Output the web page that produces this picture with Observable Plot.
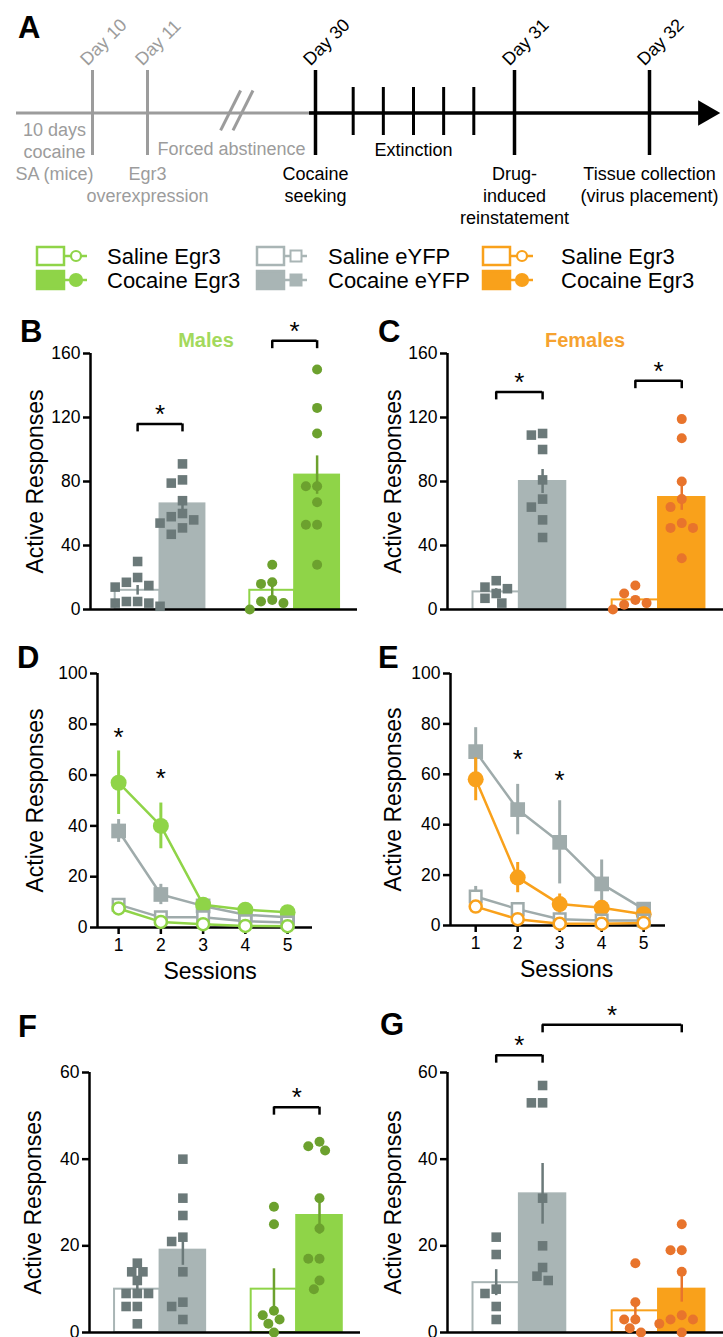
<!DOCTYPE html>
<html>
<head>
<meta charset="utf-8">
<script src="https://cdn.jsdelivr.net/npm/d3@7"></script>
<script src="https://cdn.jsdelivr.net/npm/@observablehq/plot@0.6"></script>
<style>
html, body { margin: 0; padding: 0; background: #fff; }
#page { position: relative; width: 723px; height: 1337px; overflow: hidden; background: #fff; font-family: "Liberation Sans", Arial, Helvetica, sans-serif; }
#page > svg { position: absolute; overflow: visible; }
</style>
</head>
<body>
<div id="page"></div>
<script>
// ================= DATA =================
// Panel A timeline
const timelineDays = [10, 11, 30, 31, 32];
const timelineDayLabels = ["Day 10", "Day 11", "Day 30", "Day 31", "Day 32"];
const timelineDayEarly = [true, true, false, false, false];
const extinctionSessions = [1, 2, 3, 4, 5];
const phaseLabels = ["10 days\ncocaine\nSA (mice)", "Egr3\noverexpression", "Forced abstinence", "Cocaine\nseeking", "Extinction", "Drug-\ninduced\nreinstatement", "Tissue collection\n(virus placement)"];
const phaseDays = [5, 11, 20.5, 30, null, 31, 32];
const phaseEarly = [true, true, true, false, false, false, false];

// Legend
const legendSaline = ["Saline Egr3", "Saline eYFP", "Saline Egr3"];
const legendCocaine = ["Cocaine Egr3", "Cocaine eYFP", "Cocaine Egr3"];

// Bar panels
const conditions = ["Saline eYFP", "Cocaine eYFP", "Saline Egr3", "Cocaine Egr3"];

// B: males, cocaine seeking
const maleSeekMean = [12, 66, 12, 84];
const maleSeekSem = [3, 4, 4.5, 12];
const maleSeekSalineEyfp = [30, 20, 17, 15, 14, 5, 4, 4, 5, 2];
const maleSeekCocaineEyfp = [91, 81, 79, 68, 60, 58, 56, 54, 51, 47];
const maleSeekSalineEgr3 = [28, 17, 16, 6, 5, 4, 0];
const maleSeekCocaineEgr3 = [150, 126, 110, 77, 77, 67, 53, 53, 28];
const maleSeekBrackets = [[0, 1, 116], [2, 3, 168]];

// C: females, cocaine seeking
const femaleSeekMean = [11, 80, 6, 70];
const femaleSeekSem = [2, 7.5, 2, 8];
const femaleSeekSalineEyfp = [18, 14, 13, 10, 7, 4];
const femaleSeekCocaineEyfp = [110, 109, 100, 81, 69, 64, 56, 45];
const femaleSeekSalineEgr3 = [15, 10, 6, 4, 3, 0];
const femaleSeekCocaineEgr3 = [119, 107, 80, 69, 64, 54, 51, 51, 32];
const femaleSeekBrackets = [[0, 1, 136], [2, 3, 143]];

// D/E: extinction sessions
const sessions = [1, 2, 3, 4, 5];
const maleExtSalineEgr3 = [7.5, 2.2, 1.3, 0.6, 0.5];
const maleExtSalineEgr3Sem = [2, 1, 0.5, 0.5, 0.5];
const maleExtCocaineEgr3 = [57, 40, 9, 7, 6];
const maleExtCocaineEgr3Sem = [12.5, 9, 2, 1.5, 1.5];
const maleExtSalineEyfp = [9, 4, 4, 2.5, 2];
const maleExtSalineEyfpSem = [2, 1, 1, 0.5, 0.5];
const maleExtCocaineEyfp = [38, 13, 8.5, 5, 4];
const maleExtCocaineEyfpSem = [4.5, 4, 2, 1, 1];
const maleStarSessions = [1, 2];
const maleStarY = [77, 61];

const femaleExtSalineEgr3 = [7.5, 2.5, 0.7, 0.7, 1];
const femaleExtSalineEgr3Sem = [2, 1, 0.5, 0.5, 0.5];
const femaleExtCocaineEgr3 = [58, 19, 8.5, 7, 4.5];
const femaleExtCocaineEgr3Sem = [8.5, 6, 4, 1.5, 1];
const femaleExtSalineEyfp = [11.5, 6.5, 2.5, 2, 2];
const femaleExtSalineEyfpSem = [4, 1.5, 1, 0.5, 0.5];
const femaleExtCocaineEyfp = [69, 46, 33, 16.5, 6.5];
const femaleExtCocaineEyfpSem = [9.5, 10, 16.5, 9.5, 2.5];
const femaleStarSessions = [2, 3];
const femaleStarY = [68, 60];

// F: males, drug-induced reinstatement
const maleReinstMean = [10, 19, 10, 27];
const maleReinstSem = [1.3, 3.5, 4.7, 4.3];
const maleReinstSalineEyfp = [16, 14, 14, 12, 9, 9, 9, 6, 6, 2];
const maleReinstCocaineEyfp = [40, 31, 27, 22, 21, 14, 7, 6, 3];
const maleReinstSalineEgr3 = [29, 25, 5, 4, 3, 2, 0];
const maleReinstCocaineEgr3 = [44, 43, 42, 31, 24, 17, 17, 12, 10];
const maleReinstBrackets = [[2, 3, 52]];

// G: females, drug-induced reinstatement
const femaleReinstMean = [11.5, 32, 5, 10];
const femaleReinstSem = [3, 7, 2.2, 3];
const femaleReinstSalineEyfp = [22, 18, 10, 9, 6, 3];
const femaleReinstCocaineEyfp = [57, 53, 53, 31, 20, 15, 13, 12];
const femaleReinstSalineEgr3 = [16, 7, 3, 3, 1, 0];
const femaleReinstCocaineEgr3 = [25, 19, 19, 14, 4, 3, 3, 2, 0];
const femaleReinstBrackets = [[0, 1, 64], [1, 3, 71]];

// ================= STYLE =================
const FONT = "'Liberation Sans', Arial, Helvetica, sans-serif";
const GREEN = "#8fd448", GREEN_DOT = "#6ca12e", GREEN_TITLE = "#a3d95c";
const GRAY_FILL = "#a9b5b5", GRAY_DOT = "#6b7979", GRAY_LINE = "#9fabab";
const ORANGE = "#f9a11b", ORANGE_DOT = "#e8742c", ORANGE_TITLE = "#f6a230";
const TL_GRAY = "#9c9c9c";
const AXW = 2.5;

const page = document.getElementById("page");
function place(svg, left, top) {
  svg.style.position = "absolute";
  svg.style.left = left + "px";
  svg.style.top = top + "px";
  page.appendChild(svg);
}
const baseStyle = {background: "transparent", overflow: "visible", fontFamily: FONT, color: "black"};

// ================= PANEL A: timeline =================
const extX = s => 30 + (s + 0.25) / 6.6;
const tlEvents = timelineDays.map((day, i) => ({day, label: timelineDayLabels[i], early: timelineDayEarly[i]}));
const phaseCapTop = [-0.17, -1.2, -0.62, -1.2, -0.65, -1.2, -1.2];
const phases = phaseLabels.map((t, i) => ({t, x: phaseDays[i] == null ? extX(3) : phaseDays[i], y: phaseCapTop[i], early: phaseEarly[i]}));

const timeline = Plot.plot({
  width: 723, height: 230, margin: 0,
  style: baseStyle,
  x: {type: "linear", domain: [0, 10, 11, 30, 31, 32, 33], range: [16, 92, 147, 315, 514, 649, 719], axis: null},
  y: {type: "linear", domain: [1, -1], range: [70, 155], axis: null},
  marks: [
    Plot.ruleY([0], {x1: 0, x2: 30, stroke: TL_GRAY, strokeWidth: 3}),
    Plot.ruleY([0], {x1: 30, x2: 33, dx: -6, stroke: "black", strokeWidth: 3.5}),
    Plot.dot([33], {x: d => d, y: 0, symbol: "triangle", rotate: 90, r: 9.5, fill: "black", dx: -14}),
    Plot.ruleX(tlEvents.filter(d => d.early), {x: "day", y1: 1, y2: -1, stroke: TL_GRAY, strokeWidth: 3}),
    Plot.ruleX(tlEvents.filter(d => !d.early), {x: "day", y1: 1, y2: -1, stroke: "black", strokeWidth: 3.5}),
    Plot.ruleX(extinctionSessions, {x: extX, y1: 0.6, y2: -0.53, stroke: "black", strokeWidth: 3}),
    Plot.link([20.4, 21.8], {x1: d => d - 1.13, x2: d => d + 1.13, y1: -0.41, y2: 0.53, stroke: TL_GRAY, strokeWidth: 3}),
    Plot.text(tlEvents.filter(d => d.early), {x: "day", y: 1, text: "label", rotate: -45, textAnchor: "start", lineAnchor: "bottom", fontSize: 18, fill: TL_GRAY, dx: -5, dy: -4}),
    Plot.text(tlEvents.filter(d => !d.early), {x: "day", y: 1, text: "label", rotate: -45, textAnchor: "start", lineAnchor: "bottom", fontSize: 18, fill: "black", dx: -5, dy: -4}),
    Plot.text(phases.filter(d => d.early), {x: "x", y: "y", text: "t", lineAnchor: "top", lineHeight: 1.22, fontSize: 18, fill: TL_GRAY}),
    Plot.text(phases.filter(d => !d.early), {x: "x", y: "y", text: "t", lineAnchor: "top", lineHeight: 1.22, fontSize: 18, fill: "black"})
  ]
});
place(timeline, 0, 0);

// ================= helpers =================
function slot(i) { return i + (i >= 2 ? 1 : 0); }

function swarm(vals, pxY, pxX, diam) {
  const order = d3.range(vals.length).sort((a, b) => vals[b] - vals[a] || a - b);
  const placed = [];
  const out = new Array(vals.length);
  const step = diam * 0.55;
  for (const i of order) {
    const py = vals[i] * pxY;
    let chosen = 0;
    for (let k = 0; k < 40; k++) {
      const o = k === 0 ? 0 : (k % 2 ? -1 : 1) * Math.ceil(k / 2) * step;
      if (placed.every(p => Math.hypot(p.x - o, p.y - py) >= diam)) { chosen = o; break; }
    }
    placed.push({x: chosen, y: py});
    out[i] = chosen / pxX;
  }
  return out;
}

function yLabel(dx) {
  return Plot.text(["Active Responses"], {frameAnchor: "left", textAnchor: "middle", rotate: -90, dx, fontSize: 23});
}

function barPanel(cfg) {
  const {left, top, width, height, mt, mb, ml, mr, ymax, yticks, means, sems, points, styles, brackets, labelDx} = cfg;
  const xdom = [-1.05, 4.9];
  const pxY = (height - mt - mb) / ymax;
  const pxX = (width - ml - mr) / (xdom[1] - xdom[0]);
  const bars = conditions.map((c, i) => ({c, pos: slot(i), mean: means[i], sem: sems[i], ...styles[i]}));
  const pts = [];
  points.forEach((vals, i) => {
    const off = swarm(vals, pxY, pxX, 10.2);
    vals.forEach((v, j) => pts.push({pos: slot(i) + off[j], v, ...styles[i]}));
  });
  const br = brackets.map(([a, b, y]) => ({x1: slot(a), x2: slot(b), y}));
  const brEnds = br.flatMap(d => [{x: d.x1, y: d.y}, {x: d.x2, y: d.y}]);
  const svg = Plot.plot({
    width, height, marginTop: mt, marginBottom: mb, marginLeft: ml, marginRight: mr,
    style: baseStyle,
    x: {type: "linear", domain: xdom, axis: null},
    y: {type: "linear", domain: [0, ymax]},
    color: {type: "identity"},
    marks: [
      Plot.rect(bars, {x1: d => d.pos - 0.5, x2: d => d.pos + 0.5, y1: 0, y2: "mean", fill: "fill", stroke: "stroke", strokeWidth: 2}),
      Plot.ruleY([0], {stroke: "black", strokeWidth: AXW}),
      Plot.ruleX([xdom[0]], {stroke: "black", strokeWidth: AXW}),
      Plot.axisY({ticks: yticks, tickSize: 7, tickPadding: 3, fontSize: 17.5, strokeWidth: AXW, label: null}),
      Plot.ruleX(bars, {x: "pos", y1: d => d.mean - d.sem, y2: d => d.mean + d.sem, stroke: "dot", strokeWidth: 2.5}),
      Plot.dot(pts.filter(p => p.sym === "square"), {x: "pos", y: "v", symbol: "square", r: 5.4, fill: "dot"}),
      Plot.dot(pts.filter(p => p.sym === "circle"), {x: "pos", y: "v", symbol: "circle", r: 5, fill: "dot"}),
      Plot.ruleY(br, {x1: "x1", x2: "x2", y: "y", stroke: "black", strokeWidth: 2.5}),
      Plot.ruleX(brEnds, {x: "x", y1: "y", y2: d => d.y - 8 / pxY, stroke: "black", strokeWidth: 2.5}),
      Plot.text(br, {x: d => (d.x1 + d.x2) / 2, y: "y", text: () => "*", fontSize: 26, dy: -9}),
      yLabel(labelDx)
    ]
  });
  place(svg, left, top);
}

function linePanel(cfg) {
  const {left, top, width, height, mt, mb, ml, mr, xdom, series, stars, labelDx} = cfg;
  const marks = [
    Plot.ruleY([0], {stroke: "black", strokeWidth: AXW}),
    Plot.ruleX([xdom[0]], {stroke: "black", strokeWidth: AXW}),
    Plot.axisY({ticks: [0, 20, 40, 60, 80, 100], tickSize: 7, tickPadding: 3, fontSize: 17.5, strokeWidth: AXW, label: null}),
    Plot.axisX({ticks: sessions, tickSize: 7, tickPadding: 4, fontSize: 17.5, strokeWidth: AXW, label: null, tickFormat: d => String(d)})
  ];
  for (const s of series) {
    const rows = sessions.map((x, i) => ({x, y: s.mean[i], sem: s.sem[i]}));
    marks.push(
      Plot.ruleX(rows, {x: "x", y1: d => d.y - d.sem, y2: d => d.y + d.sem, stroke: s.color, strokeWidth: 3}),
      Plot.line(rows, {x: "x", y: "y", stroke: s.color, strokeWidth: 2.5}),
      Plot.dot(rows, {x: "x", y: "y", symbol: s.sym, r: s.r, fill: s.open ? "white" : s.color, stroke: s.open ? s.color : "none", strokeWidth: 2.5})
    );
  }
  marks.push(
    Plot.text(stars, {x: "x", y: "y", text: () => "*", fontSize: 26, dy: 6}),
    yLabel(labelDx),
    Plot.text(["Sessions"], {x: () => 3, frameAnchor: "bottom", dy: 51, dx: 7, fontSize: 23})
  );
  const svg = Plot.plot({
    width, height, marginTop: mt, marginBottom: mb, marginLeft: ml, marginRight: mr,
    style: baseStyle,
    x: {type: "linear", domain: xdom},
    y: {type: "linear", domain: [0, 100]},
    marks
  });
  place(svg, left, top);
}

const maleStyles = [
  {fill: "white", stroke: GRAY_FILL, dot: GRAY_DOT, sym: "square"},
  {fill: GRAY_FILL, stroke: GRAY_FILL, dot: GRAY_DOT, sym: "square"},
  {fill: "white", stroke: GREEN, dot: GREEN_DOT, sym: "circle"},
  {fill: GREEN, stroke: GREEN, dot: GREEN_DOT, sym: "circle"}
];
const femaleStyles = [
  {fill: "white", stroke: GRAY_FILL, dot: GRAY_DOT, sym: "square"},
  {fill: GRAY_FILL, stroke: GRAY_FILL, dot: GRAY_DOT, sym: "square"},
  {fill: "white", stroke: ORANGE, dot: ORANGE_DOT, sym: "circle"},
  {fill: ORANGE, stroke: ORANGE, dot: ORANGE_DOT, sym: "circle"}
];

// B
barPanel({left: 0, top: 300, width: 360, height: 320, mt: 53, mb: 11, ml: 90, mr: 3, ymax: 160, yticks: [0, 40, 80, 120, 160],
  means: maleSeekMean, sems: maleSeekSem,
  points: [maleSeekSalineEyfp, maleSeekCocaineEyfp, maleSeekSalineEgr3, maleSeekCocaineEgr3],
  styles: maleStyles, brackets: maleSeekBrackets, labelDx: -55});
// C
barPanel({left: 360, top: 300, width: 363, height: 320, mt: 53, mb: 11, ml: 87, mr: 0, ymax: 160, yticks: [0, 40, 80, 120, 160],
  means: femaleSeekMean, sems: femaleSeekSem,
  points: [femaleSeekSalineEyfp, femaleSeekCocaineEyfp, femaleSeekSalineEgr3, femaleSeekCocaineEgr3],
  styles: femaleStyles, brackets: femaleSeekBrackets, labelDx: -54});

// D
linePanel({left: 0, top: 620, width: 360, height: 390, mt: 53, mb: 83, ml: 97, mr: 48, xdom: [0.5, 5.59],
  series: [
    {mean: maleExtCocaineEyfp, sem: maleExtCocaineEyfpSem, color: GRAY_LINE, sym: "square", r: 8.3, open: false},
    {mean: maleExtCocaineEgr3, sem: maleExtCocaineEgr3Sem, color: GREEN, sym: "circle", r: 8, open: false},
    {mean: maleExtSalineEyfp, sem: maleExtSalineEyfpSem, color: GRAY_LINE, sym: "square", r: 6.5, open: true},
    {mean: maleExtSalineEgr3, sem: maleExtSalineEgr3Sem, color: GREEN, sym: "circle", r: 6, open: true}
  ],
  stars: maleStarSessions.map((x, i) => ({x, y: maleStarY[i]})), labelDx: -62});
// E
linePanel({left: 360, top: 620, width: 363, height: 390, mt: 53, mb: 85, ml: 90, mr: 58, xdom: [0.4, 5.52],
  series: [
    {mean: femaleExtCocaineEyfp, sem: femaleExtCocaineEyfpSem, color: GRAY_LINE, sym: "square", r: 8.3, open: false},
    {mean: femaleExtCocaineEgr3, sem: femaleExtCocaineEgr3Sem, color: ORANGE, sym: "circle", r: 8, open: false},
    {mean: femaleExtSalineEyfp, sem: femaleExtSalineEyfpSem, color: GRAY_LINE, sym: "square", r: 6.5, open: true},
    {mean: femaleExtSalineEgr3, sem: femaleExtSalineEgr3Sem, color: ORANGE, sym: "circle", r: 6, open: true}
  ],
  stars: femaleStarSessions.map((x, i) => ({x, y: femaleStarY[i]})), labelDx: -57});

// F
barPanel({left: 0, top: 1000, width: 360, height: 337, mt: 72, mb: 5, ml: 89, mr: 0, ymax: 60, yticks: [0, 20, 40, 60],
  means: maleReinstMean, sems: maleReinstSem,
  points: [maleReinstSalineEyfp, maleReinstCocaineEyfp, maleReinstSalineEgr3, maleReinstCocaineEgr3],
  styles: maleStyles, brackets: maleReinstBrackets, labelDx: -56});
// G
barPanel({left: 360, top: 1000, width: 363, height: 337, mt: 72, mb: 5, ml: 87, mr: 0, ymax: 60, yticks: [0, 20, 40, 60],
  means: femaleReinstMean, sems: femaleReinstSem,
  points: [femaleReinstSalineEyfp, femaleReinstCocaineEyfp, femaleReinstSalineEgr3, femaleReinstCocaineEgr3],
  styles: femaleStyles, brackets: femaleReinstBrackets, labelDx: -54});

// ================= overlay: legend, letters, titles =================
const ov = d3.select(page).append("svg")
  .attr("width", 723).attr("height", 1337)
  .style("left", "0px").style("top", "0px").style("pointer-events", "none")
  .style("font-family", FONT);

const legendColors = [GREEN, GRAY_FILL, ORANGE];
const legendMarkers = ["circle", "square", "circle"];
const legendBoxX = [37, 257, 483];
const legendTextX = [107, 328, 561];
const legendRowY = [256, 280];
legendColors.forEach((col, g) => {
  [legendSaline[g], legendCocaine[g]].forEach((name, row) => {
    const y = legendRowY[row];
    const filled = row === 1;
    const bx = legendBoxX[g];
    ov.append("rect").attr("x", bx).attr("y", y - 9).attr("width", 27).attr("height", 18)
      .attr("fill", filled ? col : "white").attr("stroke", col).attr("stroke-width", 2.5);
    ov.append("line").attr("x1", bx + 28).attr("x2", bx + 50).attr("y1", y).attr("y2", y)
      .attr("stroke", col).attr("stroke-width", 2.5);
    const mx = bx + 39;
    if (legendMarkers[g] === "circle") {
      ov.append("circle").attr("cx", mx).attr("cy", y).attr("r", filled ? 6 : 5)
        .attr("fill", filled ? col : "white").attr("stroke", col).attr("stroke-width", 2.2);
    } else {
      ov.append("rect").attr("x", mx - 5.5).attr("y", y - 5.5).attr("width", 11).attr("height", 11)
        .attr("fill", filled ? col : "white").attr("stroke", col).attr("stroke-width", 2);
    }
    ov.append("text").attr("x", legendTextX[g]).attr("y", y).attr("dy", "0.36em")
      .attr("font-size", 22).attr("fill", "black").text(name);
  });
});

const letters = [["A", 18, 38], ["B", 20, 342], ["C", 378, 342], ["D", 17, 668], ["E", 378, 668], ["F", 18, 1037], ["G", 380, 1035]];
letters.forEach(([t, x, y]) => {
  ov.append("text").attr("x", x).attr("y", y).attr("font-size", 31).attr("font-weight", "bold").attr("fill", "black").text(t);
});
ov.append("text").attr("x", 206).attr("y", 347).attr("text-anchor", "middle").attr("font-size", 20).attr("font-weight", "bold").attr("fill", GREEN_TITLE).text("Males");
ov.append("text").attr("x", 585).attr("y", 347).attr("text-anchor", "middle").attr("font-size", 20).attr("font-weight", "bold").attr("fill", ORANGE_TITLE).text("Females");
</script>
</body>
</html>
